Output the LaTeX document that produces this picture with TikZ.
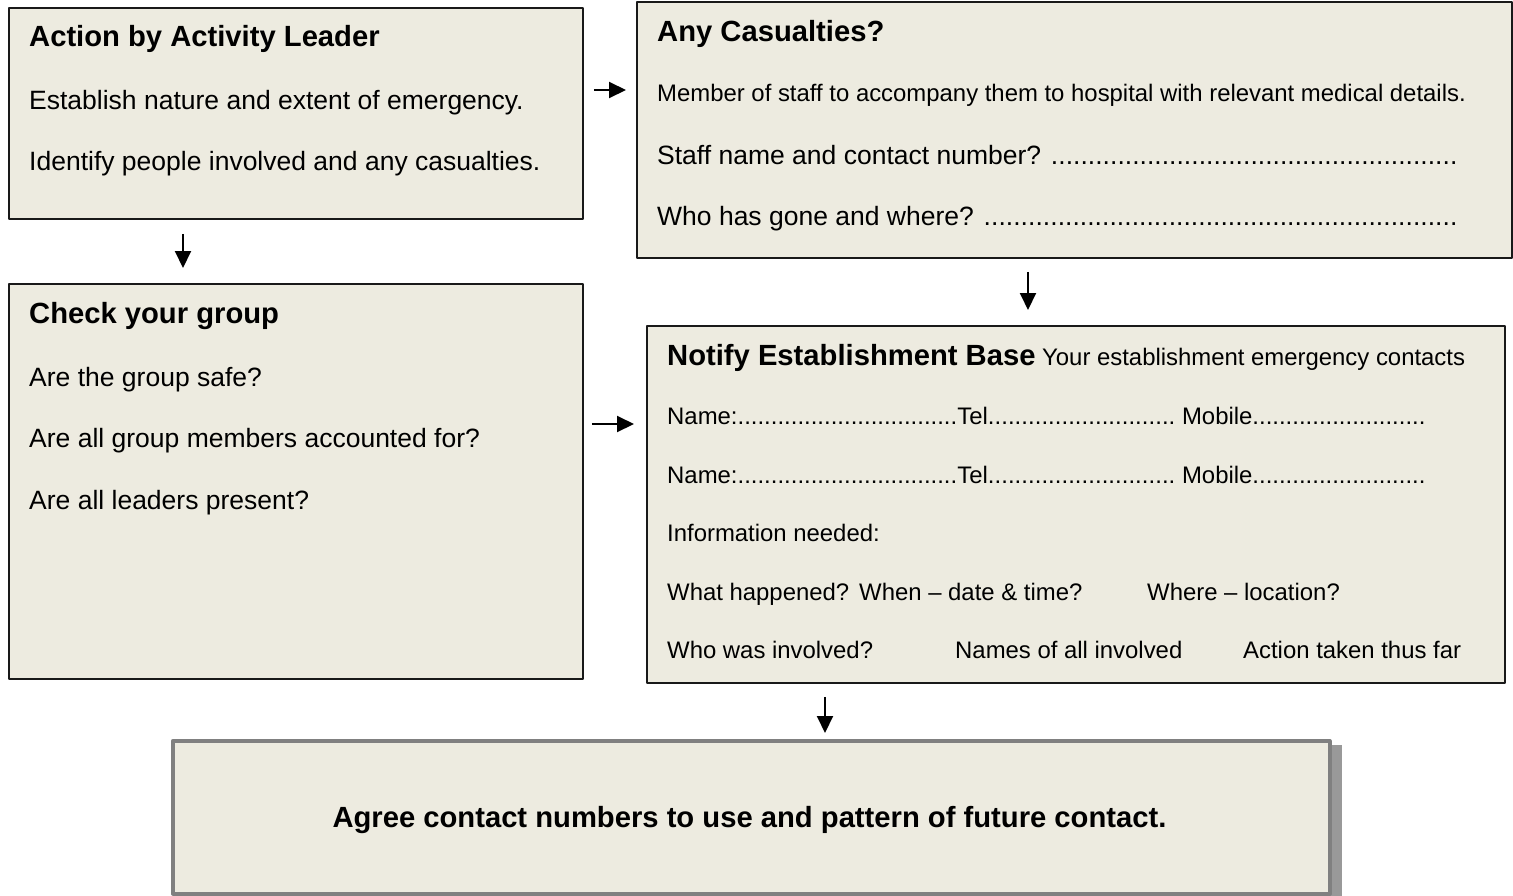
\documentclass[tikz,border=0pt]{standalone}
\usepackage{fontspec}
\setmainfont{Liberation Sans}
\usepackage{xcolor}
\usetikzlibrary{arrows.meta,shadows}
\definecolor{boxfill}{RGB}{237,235,224}
\newcommand{\fsbody}{\fontsize{26.5}{30}\selectfont}
\newcommand{\fsnote}{\fontsize{23.9}{27}\selectfont}
\newcommand{\fshead}{\fontsize{29.2}{33}\selectfont\bfseries}
\newcommand{\dotcol}[2]{\makebox[#1pt][l]{#2\xleaders\hbox{.}\hfill}}
\tikzset{
  every picture/.style={line join=round, >=Stealth},
  panel/.style={draw=black!90, line width=1.8pt, fill=boxfill, anchor=north west, inner sep=0pt},
  txt/.style={anchor=base west, inner sep=0pt, font=\fsbody},
  note/.style={txt, font=\fsnote},
  head/.style={txt, font=\fshead},
  flow/.style={line width=2pt, -{Triangle[length=17pt,width=16pt]}},
}

\begin{document}
\begin{tikzpicture}[x=1pt,y=-1pt]
\useasboundingbox (0,0) rectangle (1513,895);
% boxes
\node[panel, minimum width=574pt, minimum height=211pt] (action) at (8,7) {};
\node[panel, minimum width=875pt, minimum height=256pt] (casualty) at (636,1) {};
\node[panel, minimum width=574pt, minimum height=395pt] (group) at (8,283) {};
\node[panel, minimum width=858pt, minimum height=357pt] (notify) at (646,325) {};
\node[panel, draw=black!50, line width=3.5pt, minimum width=1157pt, minimum height=153pt,
  drop shadow={shadow xshift=12pt, shadow yshift=-4pt, opacity=1, fill=black!40}] (agree) at (171,739) {};
% action by activity leader
\node[head] (actionH) at (29,46.5) {Action by Activity Leader};
\node[txt] (action1) at (29,109.5) {Establish nature and extent of emergency.};
\node[txt] (action2) at (29,170.5) {Identify people involved and any casualties.};
% casualties
\node[head] (casualtyH) at (657,41.5) {Any Casualties?};
\node[note] (casualty1) at (657,101.6) {Member of staff to accompany them to hospital with relevant medical details.};
\node[txt] (casualty2) at (657,164.5) {\dotcol{800}{Staff name and contact number? }};
\node[txt] (casualty3) at (657,225.5) {\dotcol{800}{Who has gone and where? }};
% check your group
\node[head] (groupH) at (29,323.5) {Check your group};
\node[txt] (group1) at (29,386.5) {Are the group safe?};
\node[txt] (group2) at (29,447.5) {Are all group members accounted for?};
\node[txt] (group3) at (29,509.5) {Are all leaders present?};
% notify base
\node[note] (notifyH) at (667,365.5) {{\fshead Notify Establishment Base} Your establishment emergency contacts};
\node[note] (name1) at (667,424.6) {\dotcol{290}{Name:}\dotcol{218}{Tel}\dotcol{250}{ Mobile}};
\node[note] (name2) at (667,483.6) {\dotcol{290}{Name:}\dotcol{218}{Tel}\dotcol{250}{ Mobile}};
\node[note] (info) at (667,541.6) {Information needed:};
\node[note] (qWhat) at (667,600.6) {What happened?};
\node[note] (qWhen) at (859,600.6) {When -- date \& time?};
\node[note] (qWhere) at (1147,600.6) {Where -- location?};
\node[note] (qWho) at (667,658.6) {Who was involved?};
\node[note] (qNames) at (955,658.6) {Names of all involved};
\node[note] (qAction) at (1243,658.6) {Action taken thus far};
% agree
\node[anchor=base, inner sep=0pt, font=\fshead] (agreeT) at (749.5,827.5) {Agree contact numbers to use and pattern of future contact.};
% arrows
\draw[flow] ([shift={(175,14)}]action.south west) -- ([shift={(175,-15)}]group.north west);
\draw[flow] ([shift={(10,83)}]action.north east) -- ([shift={(-10,89)}]casualty.north west);
\draw[flow] ([shift={(392,13)}]casualty.south west) -- ([shift={(382,-15)}]notify.north west);
\draw[flow] ([shift={(8,141)}]group.north east) -- ([shift={(-12,99)}]notify.north west);
\draw[flow] ([shift={(179,13)}]notify.south west) -- ([shift={(654,-6)}]agree.north west);
\end{tikzpicture}
\end{document}
